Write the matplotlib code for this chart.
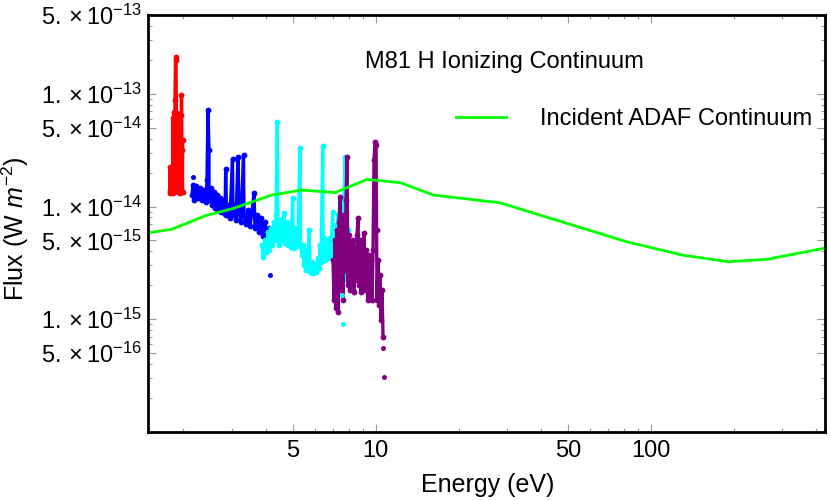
import numpy as np
import matplotlib
matplotlib.use('Agg')
import matplotlib.pyplot as plt
from matplotlib.ticker import FixedLocator, FixedFormatter, NullFormatter

plt.rcParams['font.family'] = ['Liberation Sans', 'DejaVu Sans']
plt.rcParams['mathtext.fontset'] = 'custom'
plt.rcParams['mathtext.rm'] = 'Liberation Sans'
plt.rcParams['mathtext.it'] = 'Liberation Sans:italic'

# flux values below are in units of 1e-15 W m^-2, energies in eV
FLUX_UNIT = 1e-15

red_e = [1.786, 1.786, 1.794, 1.802, 1.809, 1.816, 1.824, 1.832, 1.839, 1.847,
         1.855, 1.863, 1.871, 1.878, 1.886, 1.894, 1.902, 1.910, 1.918, 1.926,
         1.934, 1.943, 1.951, 1.959, 1.967, 1.975, 1.984, 1.987]
red_f = [14.0, 22.4, 13.2, 20.2, 13.4, 19.0, 14.0, 61.0, 13.2, 68.9,
         14.6, 88.1, 199.0, 212.0, 64.8, 14.0, 67.5, 13.4, 58.5, 15.5,
         43.1, 13.2, 64.8, 14.0, 97.6, 31.7, 13.4, 38.9]

blue_e = [2.148, 2.166, 2.184, 2.221, 2.258, 2.297, 2.335, 2.374, 2.415, 2.435,
          2.456, 2.476, 2.476, 2.518, 2.539, 2.582, 2.604, 2.648, 2.671, 2.716,
          2.738, 2.785, 2.831, 2.848, 2.867, 2.904, 2.953, 3.015, 3.028, 3.079,
          3.105, 3.157, 3.184, 3.237, 3.306, 3.319, 3.375, 3.432, 3.490, 3.549,
          3.610, 3.640, 3.702, 3.764, 3.828, 3.892, 3.958, 4.025, 4.093, 4.127,
          4.197]
blue_f = [12.6, 15.5, 11.4, 15.2, 11.9, 14.6, 11.4, 14.0, 10.96, 17.2,
          71.8, 31.7, 11.4, 14.6, 10.3, 13.4, 9.7, 12.6, 9.3, 11.9,
          8.9, 11.4, 8.6, 21.5, 8.4, 10.3, 7.9, 26.4, 8.4, 10.3,
          7.6, 27.5, 8.9, 7.3, 28.6, 8.4, 7.0, 9.3, 6.7, 8.9,
          13.2, 6.45, 8.4, 5.94, 7.9, 5.47, 7.3, 5.04, 6.45, 4.74,
          5.58]

cyan_e = [3.860, 3.892, 3.958, 3.991, 4.058, 4.093, 4.162, 4.197, 4.267, 4.303,
          4.339, 4.386, 4.412, 4.449, 4.525, 4.563, 4.640, 4.679, 4.758, 4.798,
          4.880, 4.920, 4.991, 5.004, 5.046, 5.131, 5.174, 5.218, 5.306, 5.329,
          5.395, 5.440, 5.487, 5.533, 5.579, 5.674, 5.736, 5.769, 5.867, 5.916,
          6.016, 6.067, 6.169, 6.220, 6.273, 6.326, 6.417, 6.432, 6.486, 6.541,
          6.651, 6.707, 6.821, 6.878, 6.976, 6.993, 7.112, 7.171, 7.293, 7.354,
          7.479, 7.541, 7.668, 7.734, 7.798, 7.864, 7.930]
cyan_f = [4.55, 3.56, 5.04, 3.95, 5.94, 4.11, 6.45, 4.55, 7.3, 5.04,
          8.4, 56.2, 6.2, 4.55, 7.6, 5.04, 8.75, 4.74, 7.3, 4.55,
          6.85, 4.37, 11.9, 5.58, 4.28, 6.45, 4.46, 5.58, 32.8, 4.55,
          3.71, 4.55, 3.03, 4.11, 2.73, 3.49, 6.2, 2.62, 3.22, 2.57,
          3.03, 2.62, 3.49, 2.85, 4.55, 3.22, 34.4, 4.11, 5.25, 3.35,
          5.04, 3.49, 5.25, 3.71, 8.9, 4.11, 6.85, 3.49, 8.4, 3.22,
          10.3, 3.71, 11.4, 27.5, 5.04, 2.23, 6.2]

purple_e = [6.993, 7.052, 7.112, 7.171, 7.232, 7.293, 7.354, 7.417, 7.479, 7.541,
            7.605, 7.668, 7.734, 7.798, 7.864, 7.930, 7.997, 8.064, 8.132, 8.200,
            8.269, 8.339, 8.409, 8.479, 8.551, 8.622, 8.694, 8.768, 8.842, 8.915,
            8.991, 9.067, 9.144, 9.220, 9.300, 9.376, 9.455, 9.535, 9.615, 9.696,
            9.777, 9.858, 9.94, 10.03, 10.07, 10.11, 10.19, 10.28, 10.37, 10.45,
            10.54, 10.63]
purple_f = [3.35, 1.48, 5.04, 1.26, 6.2, 1.16, 7.3, 12.1, 1.82, 8.4,
            1.48, 6.2, 2.73, 11.4, 27.5, 2.01, 5.58, 1.82, 4.55, 2.23,
            5.04, 1.74, 4.11, 2.23, 5.58, 7.9, 2.01, 5.04, 1.74, 4.55,
            2.23, 5.82, 1.82, 4.11, 2.01, 1.48, 3.71, 1.64, 3.35, 1.48,
            4.11, 25.8, 37.6, 35.1, 6.2, 1.48, 3.35, 1.34, 2.47, 0.98,
            1.82, 0.695]

# isolated points away from the main bands
stray_e = [2.157, 4.127, 7.52, 7.605, 10.66, 10.75]
stray_f = [18.3, 2.47, 1.64, 0.91, 0.555, 0.307]
stray_c = ['#0000ff', '#0000ff', '#00ffff', '#00ffff', '#800080', '#800080']

adaf_e = [1.49, 1.81, 2.40, 3.04, 4.19, 5.38, 7.11, 9.30, 12.26, 16.2,
          28.3, 81.8, 131.0, 191.5, 264.0, 424.0]
adaf_f = [5.85, 6.27, 8.28, 9.63, 12.65, 14.0, 13.3, 17.4, 16.3, 12.65,
          10.8, 4.87, 3.7, 3.24, 3.40, 4.25]

y_major = [5e-13, 1e-13, 5e-14, 1e-14, 5e-15, 1e-15, 5e-16]
y_labels = [r'$5.\times10^{-13}$', r'$1.\times10^{-13}$', r'$5.\times10^{-14}$',
            r'$1.\times10^{-14}$', r'$5.\times10^{-15}$', r'$1.\times10^{-15}$',
            r'$5.\times10^{-16}$']
x_major = [5, 10, 50, 100]
x_labels = ['5', '10', '50', '100']


fig = plt.figure(figsize=(8.3, 5), dpi=100)
ax = fig.add_axes([0.1783, 0.136, 0.8157, 0.834])
ax.set_xscale('log')
ax.set_yscale('log')

series = [(red_e, red_f, '#ff0000'), (blue_e, blue_f, '#0000ff'),
          (cyan_e, cyan_f, '#00ffff'), (purple_e, purple_f, '#800080')]
for e, f, c in series:
    ax.plot(e, np.array(f) * FLUX_UNIT, color=c, lw=2.4, marker='o', ms=4.2, mew=0)
for e, f, c in zip(stray_e, stray_f, stray_c):
    ax.plot([e], [f * FLUX_UNIT], color=c, marker='o', ms=3.6, mew=0, ls='none')

ax.plot(adaf_e, np.array(adaf_f) * FLUX_UNIT, color='#00ff00', lw=2.0,
        label='Incident ADAF Continuum')

ax.set_xlim(1.486, 430)
ax.set_ylim(1e-16, 5e-13)

x_minor = [m * 10 ** d for d in range(0, 3) for m in range(1, 10)]
x_minor = [v for v in x_minor if v not in x_major and 1.486 < v < 430]
y_minor = [m * 10.0 ** d for d in range(-16, -12) for m in range(1, 10)]
y_minor = [v for v in y_minor if min(abs(v / t - 1) for t in y_major) > 1e-6]

ax.xaxis.set_major_locator(FixedLocator(x_major))
ax.xaxis.set_major_formatter(FixedFormatter(x_labels))
ax.xaxis.set_minor_locator(FixedLocator(x_minor))
ax.xaxis.set_minor_formatter(NullFormatter())
ax.yaxis.set_major_locator(FixedLocator(y_major))
ax.yaxis.set_major_formatter(FixedFormatter(y_labels))
ax.yaxis.set_minor_locator(FixedLocator(y_minor))
ax.yaxis.set_minor_formatter(NullFormatter())

ax.tick_params(which='both', direction='in', top=True, right=True, color='0.6', width=0.8)
ax.tick_params(which='major', length=5.5, labelsize=17)
ax.tick_params(which='minor', length=3)
ax.tick_params(axis='x', pad=6)
ax.tick_params(axis='y', pad=4)
for s in ax.spines.values():
    s.set_linewidth(2.0)
    s.set_color('black')

ax.set_xlabel('Energy (eV)', fontsize=18)
ax.set_ylabel(r'Flux (W $m^{-2}$)', fontsize=18)
ax.xaxis.set_label_coords(0.502, -0.098)
ax.yaxis.set_label_coords(-0.173, 0.487)

ax.text(0.3205, 0.872, 'M81 H Ionizing Continuum', transform=ax.transAxes,
        fontsize=17, ha='left', va='baseline')
ax.legend(loc='center left', bbox_to_anchor=(0.455, 0.7506), frameon=False,
          fontsize=17, handlelength=2.12, handletextpad=1.44,
          borderpad=0, borderaxespad=0)

fig.savefig('out.png', dpi=100)
